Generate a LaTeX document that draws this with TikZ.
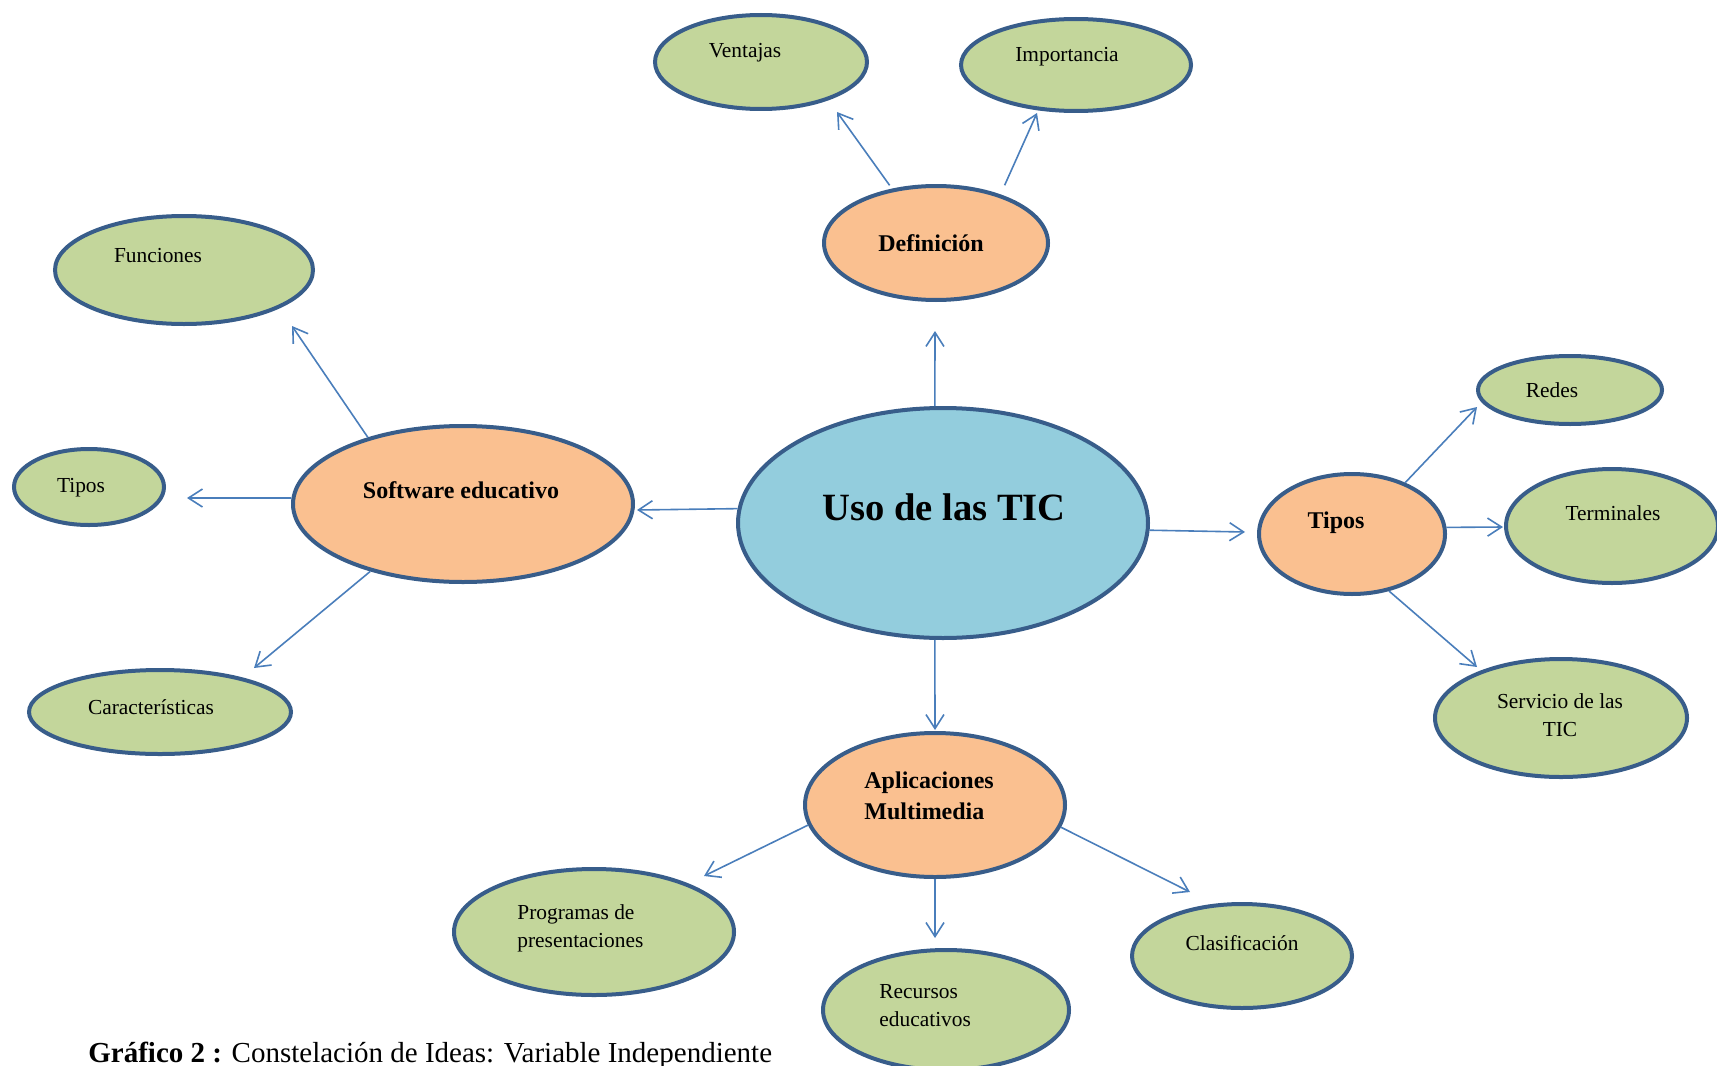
\documentclass[tikz,border=0pt]{standalone}
\usepackage{fontspec}
\setmainfont{Liberation Serif}
\usetikzlibrary{arrows.meta,shapes.geometric}
\definecolor{bord}{RGB}{56,93,138}
\definecolor{gfill}{RGB}{195,214,155}
\definecolor{ofill}{RGB}{250,192,144}
\definecolor{bfill}{RGB}{147,205,221}
\definecolor{arrowc}{RGB}{74,126,187}
\begin{document}
\begin{tikzpicture}[x=0.5pt,y=-0.5pt,
  ell/.style={ellipse, draw=bord, line width=2pt, inner sep=0pt},
  leaf/.style={ell, fill=gfill},
  mid/.style={ell, fill=ofill},
  core/.style={ell, fill=bfill},
  lbl/.style={font=\fontsize{10.7}{13}\selectfont, text=black, inner sep=0pt, anchor=base},
  lblw/.style={lbl, anchor=base west},
  blbl/.style={lbl, font=\fontsize{12}{14}\selectfont\bfseries},
  blblw/.style={blbl, anchor=base west},
  arr/.style={draw=arrowc, line width=0.8pt, -{Straight Barb[length=7pt,width=9pt]}}
]
\useasboundingbox (0,0) rectangle (1717,1065);

% central
\node[core, minimum width=205pt, minimum height=115pt] (uso) at (943,523) {};
\node[lbl, font=\fontsize{19.3}{22}\selectfont\bfseries] (uso-t) at (944,520) {Uso de las TIC};

% Definicion branch
\node[mid, minimum width=112pt, minimum height=57pt] (def) at (936,243) {};
\node[blbl] (def-t) at (931,251) {Definición};
\node[leaf, minimum width=106pt, minimum height=47pt] (vent) at (761,62) {};
\node[lbl] (vent-t) at (745,58) {Ventajas};
\node[leaf, minimum width=115pt, minimum height=46pt] (imp) at (1076,65) {};
\node[lbl] (imp-t) at (1067,62) {Importancia};

% Software branch
\node[mid, minimum width=170pt, minimum height=78pt] (soft) at (463,504) {};
\node[blbl] (soft-t) at (461,498) {Software educativo};
\node[leaf, minimum width=129pt, minimum height=54pt] (func) at (184,270) {};
\node[lbl] (func-t) at (158,262) {Funciones};
\node[leaf, minimum width=75pt, minimum height=38pt] (tiposL) at (89,487) {};
\node[lbl] (tiposL-t) at (81,492) {Tipos};
\node[leaf, minimum width=131pt, minimum height=42pt] (carac) at (160,712) {};
\node[lbl] (carac-t) at (151,714) {Características};

% Tipos branch
\node[mid, minimum width=93pt, minimum height=60pt] (tiposR) at (1352,534) {};
\node[blbl] (tiposR-t) at (1336,528) {Tipos};
\node[leaf, minimum width=92pt, minimum height=34pt] (redes) at (1570,390) {};
\node[lbl] (redes-t) at (1552,397) {Redes};
\node[leaf, minimum width=106pt, minimum height=57pt] (term) at (1612,526) {};
\node[lbl] (term-t) at (1613,520) {Terminales};
\node[leaf, minimum width=126pt, minimum height=59pt] (serv) at (1561,718) {};
\node[lbl] (serv-t1) at (1560,708) {Servicio de las};
\node[lbl] (serv-t2) at (1560,736) {TIC};

% Aplicaciones branch
\node[mid, minimum width=130pt, minimum height=72pt] (apl) at (935,805) {};
\node[blblw] (apl-t1) at (864,788) {Aplicaciones};
\node[blblw] (apl-t2) at (864,819) {Multimedia};
\node[leaf, minimum width=140pt, minimum height=63pt] (prog) at (594,932) {};
\node[lblw] (prog-t1) at (517,919) {Programas de};
\node[lblw] (prog-t2) at (517,947) {presentaciones};
\node[leaf, minimum width=123pt, minimum height=60pt] (rec) at (946,1010) {};
\node[lblw] (rec-t1) at (879,998) {Recursos};
\node[lblw] (rec-t2) at (879,1026) {educativos};
\node[leaf, minimum width=110pt, minimum height=52pt] (clas) at (1242,956) {};
\node[lbl] (clas-t) at (1242,950) {Clasificación};

% arrow tips
\coordinate (tDef) at (935,331);
\coordinate (tVent) at (837,112);
\coordinate (tImp) at (1037,113);
\coordinate (tSoft) at (637,510);
\coordinate (tFunc) at (292,326);
\coordinate (tTiposL) at (187,498);
\coordinate (tCarac) at (254,668);
\coordinate (tTiposR) at (1245,532);
\coordinate (tRedes) at (1477,407);
\coordinate (tTerm) at (1503,527);
\coordinate (tServ) at (1477,667);
\coordinate (tApl) at (935,730);
\coordinate (tProg) at (704,876);
\coordinate (tRec) at (935,938);
\coordinate (tClas) at (1190,892);

\draw[arr] (uso.94) -- (tDef);
\draw[arr, shorten <=2pt] (def.129.3) -- (tVent);
\draw[arr, shorten <=5pt] (def.37.4) -- (tImp);
\draw[arr] (uso.176.4) -- (tSoft);
\draw[arr] (soft.145.5) -- (tFunc);
\draw[arr] (soft.178) -- (tTiposL);
\draw[arr] (soft.216.3) -- (tCarac);
\draw[arr] (uso.-2.5) -- (tTiposR);
\draw[arr] (tiposR.44.4) -- (tRedes);
\draw[arr] (tiposR.4) -- (tTerm);
\draw[arr] (tiposR.-57) -- (tServ);
\draw[arr] (uso.266.3) -- (tApl);
\draw[arr] (apl.189.8) -- (tProg);
\draw[arr] (apl.-90) -- (tRec);
\draw[arr] (apl.-10) -- (tClas);

% caption
\node[anchor=base west, inner sep=0pt, font=\fontsize{14.5}{17}\selectfont] (cap) at (88,1062)
  {\textbf{Gráfico 2 :} Constelación de Ideas: Variable Independiente};
\end{tikzpicture}
\end{document}
